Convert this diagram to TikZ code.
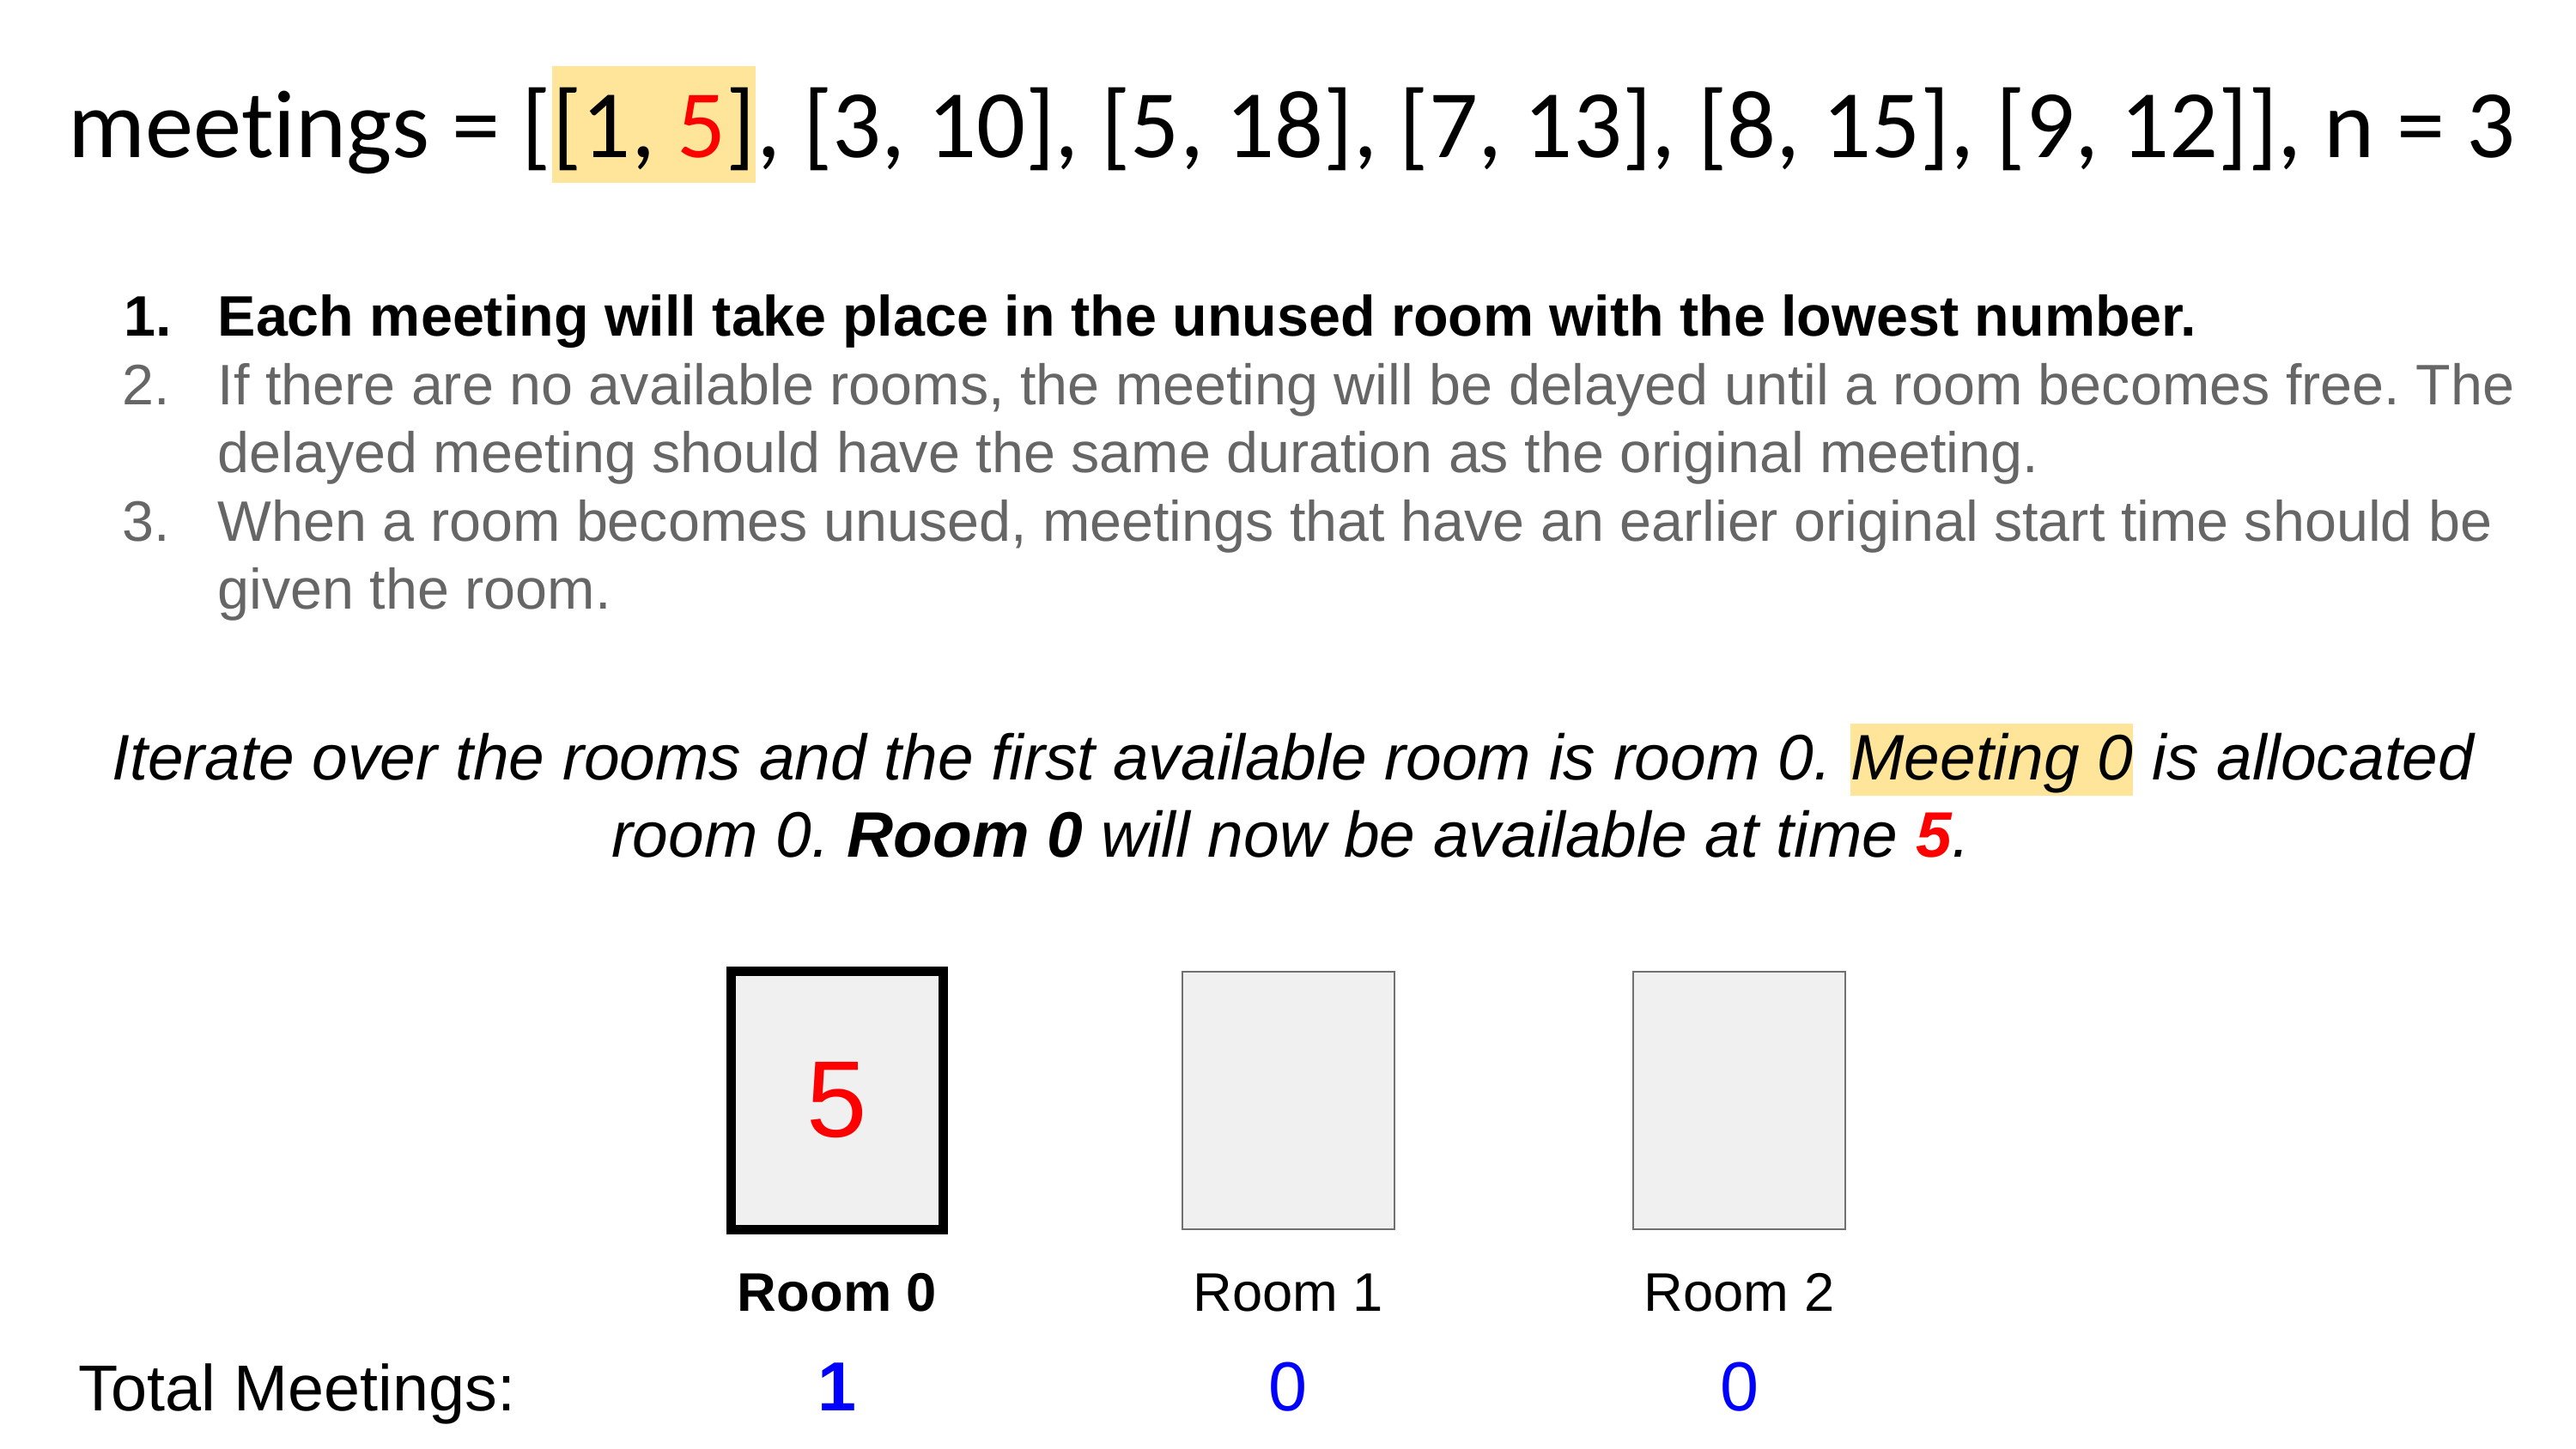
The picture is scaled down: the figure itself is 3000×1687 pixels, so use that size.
\documentclass[tikz,border=0pt]{standalone}
\usepackage{fontspec}
\setmainfont{Liberation Sans}
\newfontfamily\slidefont[Ligatures=NoCommon]{Carlito}
\usetikzlibrary{positioning}
\definecolor{hlyellow}{HTML}{FFE599}
\definecolor{rulegray}{HTML}{666666}
\definecolor{roomfill}{HTML}{F0F0F0}
\definecolor{roomedge}{HTML}{707070}
\definecolor{countblue}{HTML}{0000FF}
\frenchspacing

\begin{document}
\begin{tikzpicture}[x=0.01cm, y=-0.01cm,
every node/.style={inner sep=0pt},
hl/.style={fill=hlyellow},
title/.style={anchor=base west, font=\slidefont\fontsize{32}{32}\selectfont},
rule/.style={anchor=base west, font=\fontsize{18.9}{19}\selectfont},
say/.style={font=\itshape\fontsize{21.3}{21.3}\selectfont},
roombox/.style={draw=roomedge, line width=0.7pt, fill=roomfill, outer sep=0pt,
  minimum width=2.47cm, minimum height=3cm},
busy/.style={draw=black, line width=3.1pt},
roomlabel/.style={anchor=base, font=\fontsize{18}{18}\selectfont},
count/.style={anchor=base, text=countblue, font=\fontsize{23}{23}\selectfont}]
\useasboundingbox (0,0) rectangle (3000,1687);

\node[title] (m0) at (79,183) {meetings = [};
\node[title, hl, text height=1.06cm, text depth=0.30cm] (m1) at (m0.base east) {[1, \textcolor{red}{5}]};
\node[title] (m2) at (m1.base east) {, [3, 10], [5, 18], [7, 13], [8, 15], [9, 12]], n = 3};

\node[rule, font=\bfseries\fontsize{18.9}{19}\selectfont] (n1) at (144,391) {1.};
\node[rule, font=\bfseries\fontsize{18.9}{19}\selectfont] (t1) at (253,391) {Each meeting will take place in the unused room with the lowest number.};
\node[rule, text=rulegray] (n2) at (142,471) {2.};
\node[rule, text=rulegray] (t2) at (253,471) {If there are no available rooms, the meeting will be delayed until a room becomes free. The};
\node[rule, text=rulegray] (t2b) at ([yshift=-0.795cm]t2.base west) {delayed meeting should have the same duration as the original meeting.};
\node[rule, text=rulegray] (n3) at (142,630) {3.};
\node[rule, text=rulegray] (t3) at (253,630) {When a room becomes unused, meetings that have an earlier original start time should be};
\node[rule, text=rulegray] (t3b) at ([yshift=-0.795cm]t3.base west) {given the room.};

\node[say, anchor=base west] (s1) at (130,908) {Iterate over the rooms and the first available room is room 0.};
\node[say, hl, anchor=base west, text height=0.65cm, text depth=0.19cm] (s2) at ([xshift=5.9pt]s1.base east) {Meeting 0};
\node[say, anchor=base west] (s3) at (s2.base east) {\ is allocated};
\node[say, anchor=base] (s4) at (1503,998) {room 0. \textbf{Room 0} will now be available at time \textbf{\textcolor{red}{5}}.};

\node[roombox, busy, text=red, font=\fontsize{36}{36}\selectfont] (r0) at (975,1282) {5};
\node[roombox, right=2.78cm of r0] (r1) {};
\node[roombox, right=2.78cm of r1] (r2) {};

\node[roomlabel, font=\bfseries\fontsize{18}{18}\selectfont] (l0) at ([yshift=-0.95cm]r0.south) {Room 0};
\node[roomlabel] (l1) at ([yshift=-0.95cm]r1.south) {Room 1};
\node[roomlabel] (l2) at ([yshift=-0.95cm]r2.south) {Room 2};

\node[anchor=base west, font=\fontsize{21.5}{21.5}\selectfont] (tot) at (91,1643) {Total Meetings:};
\node[count, font=\bfseries\fontsize{23}{23}\selectfont] (c0) at ([yshift=-2.11cm]r0.south) {1};
\node[count] (c1) at ([yshift=-2.11cm]r1.south) {0};
\node[count] (c2) at ([yshift=-2.11cm]r2.south) {0};
\end{tikzpicture}
\end{document}
